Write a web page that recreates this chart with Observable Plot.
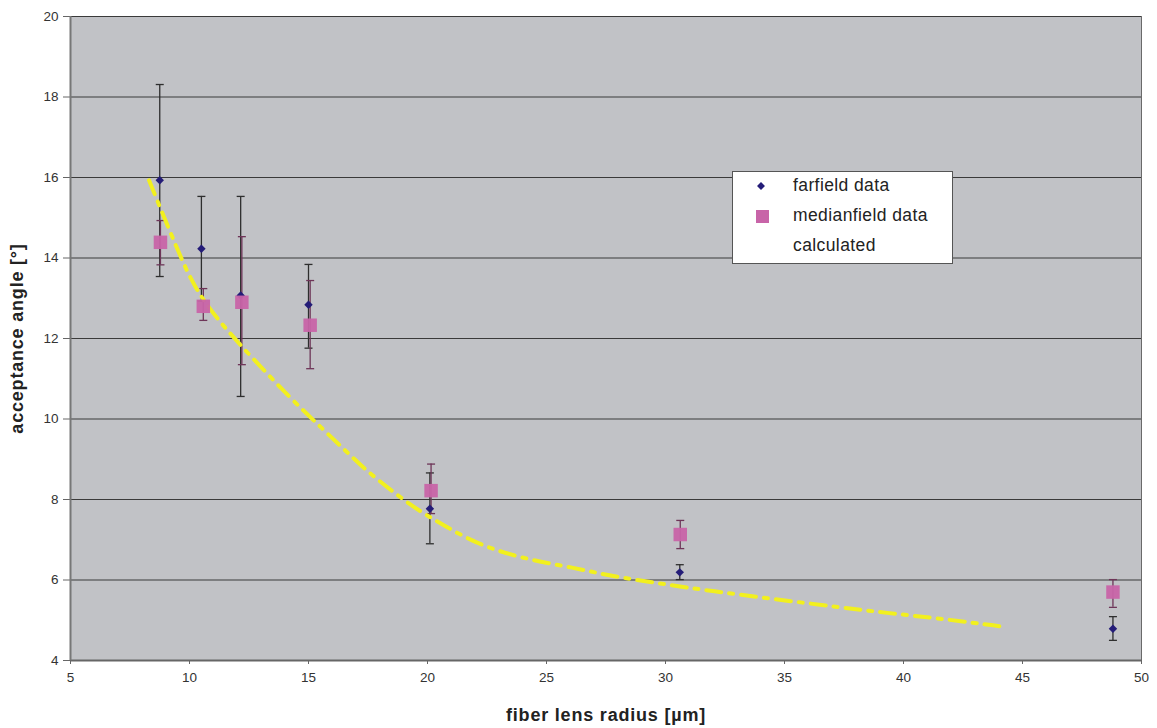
<!DOCTYPE html>
<html>
<head>
<meta charset="utf-8">
<script src="https://cdn.jsdelivr.net/npm/d3@7"></script>
<script src="https://cdn.jsdelivr.net/npm/@observablehq/plot@0.6"></script>
<style>
  html, body { margin: 0; padding: 0; background: #fff; }
  #wrap { position: relative; width: 1157px; height: 728px; font-family: "Liberation Sans", Arial, sans-serif; }
  #wrap svg [aria-label="x-axis label"] text,
  #wrap svg [aria-label="y-axis label"] text { font-weight: bold; font-size: 18px; letter-spacing: 0.8px; fill: #222; }
  #wrap svg [aria-label="x-axis tick label"] text,
  #wrap svg [aria-label="y-axis tick label"] text { font-size: 13.5px; }
  #legend { position: absolute; left: 732px; top: 171px; width: 221px; height: 93px; background: #fff;
            border: 1px solid #555; box-sizing: border-box; font-size: 17.5px; letter-spacing: 0.4px; color: #222; }
  .item { position: absolute; left: 60px; }
</style>
</head>
<body>
<div id="wrap">
  <div id="chart"></div>
  <div id="legend"></div>
</div>
<script>
// ---- data ----
const xTicks = [5, 10, 15, 20, 25, 30, 35, 40, 45, 50];
const yTicks = [4, 6, 8, 10, 12, 14, 16, 18, 20];

const farfieldRadius = [8.75, 10.5, 12.15, 15.0, 20.1, 30.6, 48.8];
const farfield      = [15.93, 14.23, 13.07, 12.84, 7.77, 6.19, 4.79];
const farfieldLo    = [13.54, 12.93, 10.56, 11.76, 6.90, 6.01, 4.50];
const farfieldHi    = [18.31, 15.53, 15.53, 13.84, 8.66, 6.38, 5.09];

const medianRadius = [8.78, 10.58, 12.2, 15.07, 20.15, 30.62, 48.8];
const median       = [14.39, 12.80, 12.90, 12.33, 8.22, 7.13, 5.70];
const medianLo     = [13.83, 12.45, 11.35, 11.25, 7.65, 6.78, 5.32];
const medianHi     = [14.93, 13.24, 14.53, 13.44, 8.88, 7.48, 6.01];

const calcRadius = [8.3, 9.5, 10.2, 11.2, 12.6, 14.2, 15.6, 16.7, 17.5, 19.2, 20.1, 22.0, 24.0, 26.2, 27.6, 29.9, 32.0, 34.5, 37.1, 39.3, 41.6, 44.2];
const calcAngle  = [15.93, 14.19, 13.27, 12.45, 11.54, 10.54, 9.75, 9.13, 8.68, 7.89, 7.56, 6.9, 6.53, 6.3, 6.11, 5.9, 5.72, 5.53, 5.34, 5.18, 5.04, 4.84];

const seriesNames = ["farfield data", "medianfield data", "calculated"];

// ---- tables ----
const ff = farfieldRadius.map((r, i) => ({r, v: farfield[i], lo: farfieldLo[i], hi: farfieldHi[i]}));
const md = medianRadius.map((r, i) => ({r, v: median[i], lo: medianLo[i], hi: medianHi[i]}));
const calc = calcRadius.map((r, i) => ({r, v: calcAngle[i]}));
const ffCaps = ff.flatMap(d => [{r: d.r, v: d.lo}, {r: d.r, v: d.hi}]);
const mdCaps = md.flatMap(d => [{r: d.r, v: d.lo}, {r: d.r, v: d.hi}]);

const capSymbol = {
  draw(ctx, size) {
    const w = Math.sqrt(size / Math.PI);
    ctx.moveTo(-w, 0);
    ctx.lineTo(w, 0);
  }
};

const navy = "#241c78", pink = "#c864a8", yellow = "#f2f01e";
const ffBar = "#2e2e2e", mdBar = "#6e3558";

const chart = Plot.plot({
  width: 1157,
  height: 728,
  marginLeft: 70,
  marginRight: 16,
  marginTop: 16,
  marginBottom: 68,
  style: {fontFamily: "'Liberation Sans', Arial, sans-serif", fontSize: "13px", color: "#333", background: "#fff", overflow: "visible"},
  x: {domain: [5, 50]},
  y: {domain: [4, 20]},
  marks: [
    Plot.frame({fill: "#c1c2c6", stroke: "#6a6a6a"}),
    Plot.gridY(yTicks, {stroke: "#3a3a3a", strokeOpacity: 1, strokeWidth: 1.2}),
    Plot.axisX({ticks: xTicks, tickSize: 4, tickPadding: 8, stroke: "#666", fill: "#333",
      label: "fiber lens radius [µm]", labelAnchor: "center", labelArrow: "none", labelOffset: 60}),
    Plot.axisY({ticks: yTicks, tickSize: 7, tickPadding: 5, stroke: "#666", fill: "#333",
      label: "acceptance angle [°]", labelAnchor: "center", labelArrow: "none", labelOffset: 60}),
    Plot.ruleY([4], {stroke: "#666", strokeWidth: 2}),
    Plot.ruleX([5], {stroke: "#777", strokeWidth: 2}),
    // farfield error bars
    Plot.ruleX(ff, {x: "r", y1: "lo", y2: "hi", stroke: ffBar, strokeWidth: 1.3}),
    Plot.dot(ffCaps, {x: "r", y: "v", symbol: capSymbol, r: 4, stroke: ffBar, strokeWidth: 1.3, fill: "none"}),
    // medianfield error bars
    Plot.ruleX(md, {x: "r", y1: "lo", y2: "hi", stroke: mdBar, strokeWidth: 1.3}),
    Plot.dot(mdCaps, {x: "r", y: "v", symbol: capSymbol, r: 4, stroke: mdBar, strokeWidth: 1.3, fill: "none"}),
    // calculated curve
    Plot.line(calc, {x: "r", y: "v", stroke: yellow, strokeWidth: 4, strokeDasharray: "15,8,4,8", curve: "basis"}),
    // markers
    Plot.dot(ff, {x: "r", y: "v", symbol: "diamond2", r: 3.8, fill: navy, stroke: "none"}),
    Plot.dot(md, {x: "r", y: "v", symbol: "square", r: 7.6, fill: pink, fillOpacity: 0.95, stroke: "none"})
  ]
});
document.getElementById("chart").appendChild(chart);

// legend
const legend = document.getElementById("legend");
const itemTops = [3, 33, 63];
seriesNames.forEach((name, i) => {
  const t = document.createElement("div");
  t.className = "item";
  t.style.top = itemTops[i] + "px";
  t.textContent = name;
  legend.appendChild(t);
});
const sv = d3.select(legend).append("svg").attr("width", 60).attr("height", 90)
  .style("position", "absolute").style("left", 0).style("top", 0);
sv.append("path").attr("d", d3.symbol(d3.symbolDiamond2, 40)()).attr("transform", "translate(28,14)").attr("fill", navy);
sv.append("rect").attr("x", 23).attr("y", 38).attr("width", 13).attr("height", 13).attr("fill", pink);
</script>
</body>
</html>
